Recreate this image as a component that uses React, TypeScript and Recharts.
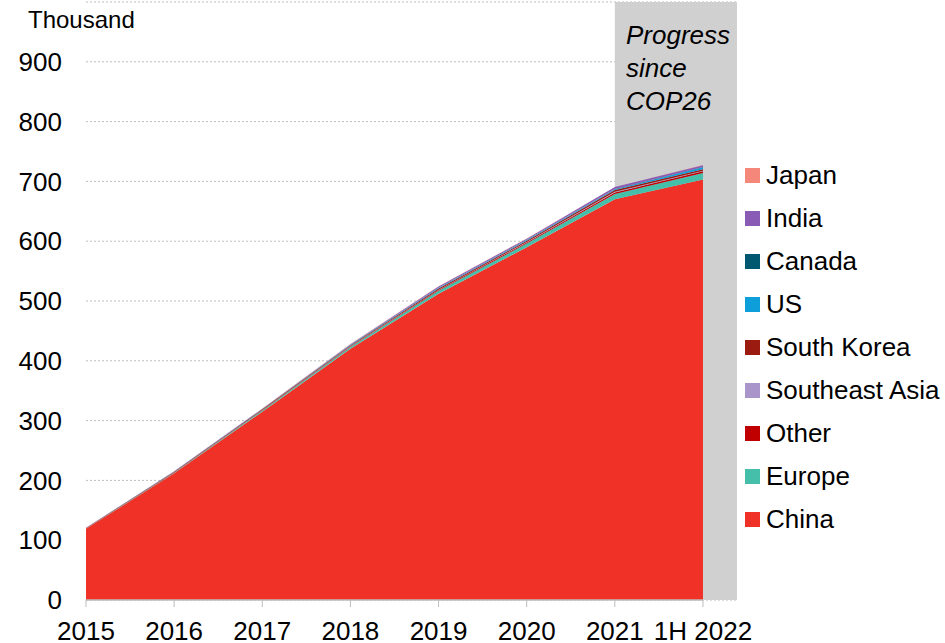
import React from 'react';
import {
  ComposedChart,
  Area,
  XAxis,
  YAxis,
  CartesianGrid,
  ReferenceArea,
  ReferenceLine,
} from 'recharts';

const periods = ['2015', '2016', '2017', '2018', '2019', '2020', '2021', '1H 2022'];
const china = [119, 212, 315, 420, 512, 590, 670, 703];
const europe = [0.5, 1, 2, 3, 5, 6, 9, 11];
const other = [0.3, 0.5, 0.8, 1, 1.5, 2, 2.5, 3];
const southeastAsia = [0, 0, 0, 0.2, 0.5, 0.7, 1, 1];
const southKorea = [0.5, 1, 1, 1.5, 2, 2, 3, 2.5];
const us = [0.2, 0.3, 0.5, 0.8, 1, 1.2, 1.5, 3];
const canada = [0.1, 0.1, 0.2, 0.2, 0.3, 0.4, 0.5, 0.5];
const india = [0.2, 0.3, 0.5, 1, 2, 2, 3, 3];
const japan = [0.1, 0.1, 0.1, 0.2, 0.2, 0.3, 0.3, 0.3];
const yTicks = [0, 100, 200, 300, 400, 500, 600, 700, 800, 900];

// bottom to top of the stack
const series = [
  { key: 'China', values: china, color: '#EF3127' },
  { key: 'Europe', values: europe, color: '#45BFAA' },
  { key: 'Other', values: other, color: '#C00000' },
  { key: 'Southeast Asia', values: southeastAsia, color: '#A995C9' },
  { key: 'South Korea', values: southKorea, color: '#9B1B10' },
  { key: 'US', values: us, color: '#0E9FDA' },
  { key: 'Canada', values: canada, color: '#005870' },
  { key: 'India', values: india, color: '#8A5BB5' },
  { key: 'Japan', values: japan, color: '#F4877A' },
];

const data = periods.map((p, i) => {
  const row: Record<string, number | string> = { idx: i, label: p };
  series.forEach((s) => {
    row[s.key] = s.values[i];
  });
  return row;
});

const font = 'Liberation Sans, Arial, sans-serif';

export default function App() {
  return (
    <div style={{ position: 'absolute', left: 0, top: 0, width: 945, height: 643, background: '#fff', overflow: 'hidden' }}>
      <ComposedChart
        width={945}
        height={643}
        data={data}
        margin={{ top: 2, right: 208, bottom: 0, left: 0 }}
      >
        <ReferenceArea x1={6} x2={7.386} y1={0} y2={1000} fill="#D0D0D0" fillOpacity={1} stroke="none" />
        <CartesianGrid vertical={false} stroke="#BDBDBD" strokeDasharray="2 2" />
        <XAxis
          dataKey="idx"
          type="number"
          domain={[0, 7.386]}
          ticks={[0, 1, 2, 3, 4, 5, 6, 7]}
          tickFormatter={(v: number) => periods[v]}
          interval={0}
          axisLine={false}
          tickLine={{ stroke: '#BDBDBD' }}
          tickSize={7}
          tickMargin={15}
          height={43}
          tick={{ fill: '#000', fontSize: 26, fontFamily: font }}
          allowDecimals={false}
        />
        <YAxis
          domain={[0, 1000]}
          ticks={yTicks}
          width={86}
          axisLine={false}
          tickLine={false}
          tickSize={0}
          tickMargin={24}
          tick={{ fill: '#000', fontSize: 26, fontFamily: font }}
        />
        <ReferenceLine
          segment={[{ x: 0, y: 0 }, { x: 7, y: 0 }]}
          stroke="#BDBDBD"
          strokeWidth={1.5}
        />
        {series.map((s) => (
          <Area
            key={s.key}
            type="linear"
            dataKey={s.key}
            stackId="a"
            fill={s.color}
            fillOpacity={1}
            stroke="none"
            isAnimationActive={false}
            dot={false}
            activeDot={false}
          />
        ))}
      </ComposedChart>
      <div style={{ position: 'absolute', left: 28, top: 6, fontFamily: font, fontSize: 24, color: '#000' }}>
        Thousand
      </div>
      <div
        style={{
          position: 'absolute',
          left: 626,
          top: 19,
          fontFamily: font,
          fontSize: 26,
          fontStyle: 'italic',
          lineHeight: '33px',
          color: '#000',
        }}
      >
        Progress
        <br />
        since
        <br />
        COP26
      </div>
      <div style={{ position: 'absolute', left: 745, top: 154.5, fontFamily: font, fontSize: 26, color: '#000' }}>
        {[...series].reverse().map((s) => (
          <div key={s.key} style={{ display: 'flex', alignItems: 'center', height: 42.9, whiteSpace: 'nowrap' }}>
            <span style={{ width: 15, height: 15, background: s.color, marginRight: 6, display: 'inline-block', flex: 'none' }} />
            <span>{s.key}</span>
          </div>
        ))}
      </div>
    </div>
  );
}
